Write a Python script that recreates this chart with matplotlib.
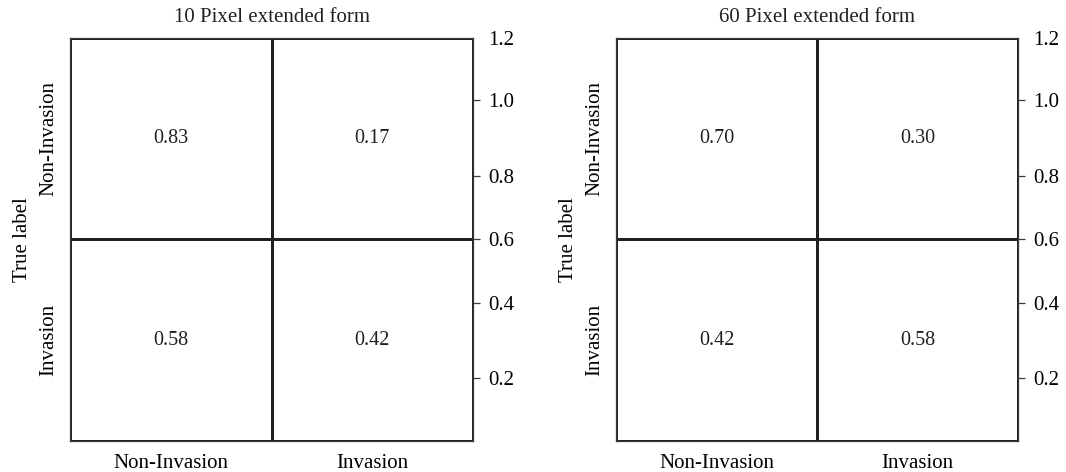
import matplotlib
matplotlib.use('Agg')
import matplotlib.pyplot as plt
import numpy as np
from matplotlib.colors import ListedColormap

plt.rcParams['font.family'] = ['Liberation Serif', 'DejaVu Serif']
plt.rcParams['text.color'] = '#231f20'

# confusion matrices (rows = true label, cols = predicted label)
CLASSES = ['Non-Invasion', 'Invasion']
TITLES = ['10 Pixel extended form', '60 Pixel extended form']
CM_10PX = [[0.83, 0.17],
           [0.58, 0.42]]
CM_60PX = [[0.70, 0.30],
           [0.42, 0.58]]
# right-hand scale labels, as printed (uneven spacing in the original)
SCALE_LABELS = ['0.2', '0.4', '0.6', '0.8', '1.0', '1.2']
SCALE_POS = [0.156, 0.342, 0.501, 0.658, 0.846, 1.0]

INK = '#231f20'
FS = 15


def draw_cm(ax, cm, title):
    cm = np.array(cm)
    ax.pcolormesh(cm, cmap=ListedColormap(['white']),
                  edgecolors=INK, linewidth=1.0)
    ax.set_xlim(0, 2)
    ax.set_ylim(2, 0)
    for i in range(2):
        for j in range(2):
            ax.text(j + 0.5, i + 0.5, f'{cm[i, j]:.2f}', ha='center',
                    va='center', fontsize=14.5, color=INK)
    ax.set_xticks([0.5, 1.5])
    ax.set_xticklabels(CLASSES, fontsize=FS)
    ax.set_yticks([0.5, 1.5])
    ax.set_yticklabels(CLASSES, fontsize=FS, rotation=90, va='center')
    ax.tick_params(axis='x', length=0, pad=9.5)
    ax.tick_params(axis='y', length=0, pad=8.5)
    ax.set_ylabel('True label', fontsize=FS, labelpad=5)
    ax.set_title(title, fontsize=FS, pad=11.5)
    for sp in ax.spines.values():
        sp.set_color('#3a3a3a')
        sp.set_linewidth(0.9)

    # scale on the right
    cax = ax.twinx()
    cax.set_ylim(0, 1)
    cax.set_yticks(SCALE_POS)
    cax.set_yticklabels(SCALE_LABELS, fontsize=FS)
    cax.tick_params(axis='y', direction='out', length=5, width=0.9,
                    color='#3a3a3a', pad=6)
    cax.yaxis.get_major_ticks()[-1].tick2line.set_visible(False)
    for sp in cax.spines.values():
        sp.set_visible(False)


fig = plt.figure(figsize=(10.66, 4.72), dpi=100)
ax1 = fig.add_axes([0.0657, 0.0657, 0.3780, 0.8538])
ax2 = fig.add_axes([0.5779, 0.0657, 0.3771, 0.8538])
draw_cm(ax1, CM_10PX, TITLES[0])
draw_cm(ax2, CM_60PX, TITLES[1])

fig.savefig('out.png', dpi=100)
